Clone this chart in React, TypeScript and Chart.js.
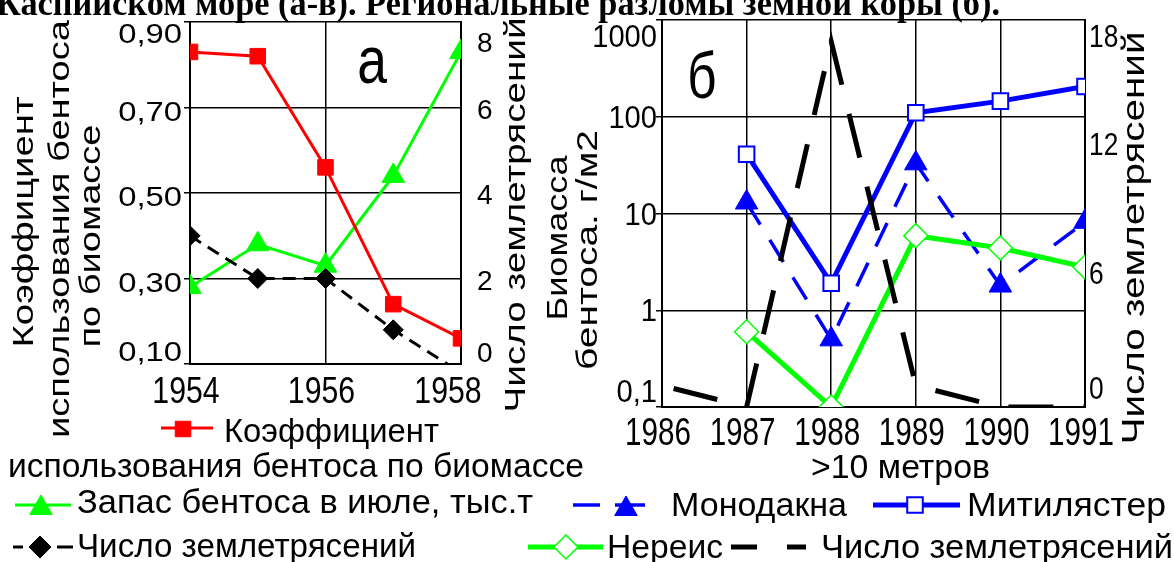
import React, { useEffect, useRef } from 'react';
import { Chart, registerables } from 'chart.js';
Chart.register(...registerables);

// ---------- Panel а (1954-1958) ----------
const yearsA = [1954, 1955, 1956, 1957, 1958];
const coefA = [0.83, 0.82, 0.56, 0.24, 0.16];
const stockA = [1.8, 2.8, 2.3, 4.4, 7.3];
const quakesA = [3, 2, 2, 0.8, -0.2];
const xTicksA = [1954, 1956, 1958];
const xTickLabelsA = ['1954', '1956', '1958'];
const yTicksA = [0.1, 0.3, 0.5, 0.7, 0.9];
const yTickLabelsA = ['0,10', '0,30', '0,50', '0,70', '0,90'];
const y2TicksA = [0, 2, 4, 6, 8];
const y2TickLabelsA = ['0', '2', '4', '6', '8'];

// ---------- Panel б (1986-1991) ----------
const yearsB = [1986, 1987, 1988, 1989, 1990, 1991];
const mitilB = [null, 41, 1.9, 110, 145, 205];
const monodB = [null, 13, 0.5, 33, 1.8, 8.2];
const nereisB = [null, 0.6, 0.1, 5.9, 4.4, 2.8];
const quakesB = [1, 0, 17, 1, 0, 0];
const xTicksB = [1986, 1987, 1988, 1989, 1990, 1991];
const xTickLabelsB = ['1986', '1987', '1988', '1989', '1990', '1991'];
const yTicksB = [0.1, 1, 10, 100, 1000];
const yTickLabelsB = ['0,1', '1', '10', '100', '1000'];
const y2TicksB = [0, 6, 12, 18];
const y2TickLabelsB = ['0', '6', '12', '18'];

const FONT = '"Liberation Sans", Arial, sans-serif';
const SERIF = '"Liberation Serif", "Times New Roman", serif';
const RED = '#ff0000';
const GREEN = '#00ff00';
const BLUE = '#0000ff';

type TOpt = {
  x: number; y: number; size: number;
  align?: CanvasTextAlign; baseline?: CanvasTextBaseline;
  sx?: number; w?: number; rot?: boolean; bold?: boolean; serif?: boolean;
};

function drawText(ctx: CanvasRenderingContext2D, s: string, o: TOpt) {
  ctx.save();
  ctx.font = `${o.bold ? 'bold ' : ''}${o.size}px ${o.serif ? SERIF : FONT}`;
  const m = ctx.measureText(s).width;
  const sx = o.w ? o.w / m : (o.sx ?? 1);
  ctx.translate(o.x, o.y);
  if (o.rot) ctx.rotate(-Math.PI / 2);
  ctx.scale(sx, 1);
  ctx.textAlign = o.align ?? 'left';
  ctx.textBaseline = o.baseline ?? 'alphabetic';
  ctx.fillStyle = '#000';
  ctx.fillText(s, 0, 0);
  ctx.restore();
}

function seg(ctx: CanvasRenderingContext2D, x0: number, x1: number, y: number, color: string, w: number) {
  ctx.save();
  ctx.strokeStyle = color;
  ctx.lineWidth = w;
  ctx.beginPath();
  ctx.moveTo(x0, y);
  ctx.lineTo(x1, y);
  ctx.stroke();
  ctx.restore();
}

function marker(ctx: CanvasRenderingContext2D, kind: string, x: number, y: number, r: number, fill: string, stroke: string, lw: number) {
  ctx.save();
  ctx.beginPath();
  if (kind === 'rect') {
    const h = r * Math.SQRT1_2;
    ctx.rect(x - h, y - h, 2 * h, 2 * h);
  } else if (kind === 'triangle') {
    let a = 0;
    ctx.moveTo(x + Math.sin(a) * r, y - Math.cos(a) * r);
    a += (2 * Math.PI) / 3;
    ctx.lineTo(x + Math.sin(a) * r, y - Math.cos(a) * r);
    a += (2 * Math.PI) / 3;
    ctx.lineTo(x + Math.sin(a) * r, y - Math.cos(a) * r);
    ctx.closePath();
  } else {
    ctx.moveTo(x - r, y);
    ctx.lineTo(x, y - r);
    ctx.lineTo(x + r, y);
    ctx.lineTo(x, y + r);
    ctx.closePath();
  }
  ctx.fillStyle = fill;
  ctx.fill();
  ctx.strokeStyle = stroke;
  ctx.lineWidth = lw;
  ctx.stroke();
  ctx.restore();
}

const clamp = (v: number, lo: number, hi: number) => Math.max(lo, Math.min(hi, v));
const pts = (xs: number[], ys: (number | null)[]) => xs.map((x, i) => ({ x, y: ys[i] }));
const setTicks = (vals: number[]) => (s: any) => { s.ticks = vals.map((v) => ({ value: v })); };

function configA(): any {
  const overlay = {
    id: 'overlayA',
    afterDraw(chart: any) {
      const ctx: CanvasRenderingContext2D = chart.ctx;
      const ca = chart.chartArea;
      const sx = chart.scales.x, sy = chart.scales.y, sy2 = chart.scales.y1;
      // title strip (cut at top)
      drawText(ctx, 'Каспийском море (а-в). Региональные разломы земной коры (б).', { x: -4, y: 15, size: 36, bold: true, serif: true, w: 1004 });
      // tick labels
      yTicksA.forEach((v, i) => {
        const cy = clamp(sy.getPixelForValue(v) + 3, ca.top + 11, ca.bottom - 13);
        drawText(ctx, yTickLabelsA[i], { x: 182, y: cy + 10, size: 28, align: 'right', sx: 1.17 });
      });
      y2TicksA.forEach((v, i) => {
        const cy = clamp(sy2.getPixelForValue(v) + 1, ca.top + 20, ca.bottom - 12);
        drawText(ctx, y2TickLabelsA[i], { x: 477, y: cy + 10, size: 28, align: 'left' });
      });
      xTicksA.forEach((v, i) => {
        const cx = Math.min(sx.getPixelForValue(v) - 4, ca.right - 13);
        drawText(ctx, xTickLabelsA[i], { x: cx, y: 403, size: 36, align: 'center', sx: 0.84 });
      });
      // axis titles
      drawText(ctx, 'Коэффициент', { x: 25, y: 222, size: 30, align: 'center', baseline: 'middle', rot: true, w: 251 });
      drawText(ctx, 'использования бентоса', { x: 61, y: 229, size: 30, align: 'center', baseline: 'middle', rot: true, w: 418 });
      drawText(ctx, 'по биомассе', { x: 92, y: 236, size: 30, align: 'center', baseline: 'middle', rot: true, w: 223 });
      drawText(ctx, 'Число землетрясений', { x: 517, y: 215, size: 30, align: 'center', baseline: 'middle', rot: true, w: 395 });
      // panel letter
      drawText(ctx, 'а', { x: 372, y: 83, size: 66, align: 'center', sx: 0.81 });
      // legend
      seg(ctx, 161, 213, 428, RED, 3);
      marker(ctx, 'rect', 183, 429, 11, RED, RED, 1);
      drawText(ctx, 'Коэффициент', { x: 224, y: 442, size: 33, w: 215 });
      drawText(ctx, 'использования бентоса по биомассе', { x: 8, y: 477, size: 33, w: 576 });
      seg(ctx, 15, 71, 505, GREEN, 3);
      marker(ctx, 'triangle', 41, 508, 13, GREEN, GREEN, 1);
      drawText(ctx, 'Запас бентоса в июле, тыс.т', { x: 77, y: 513, size: 33, w: 456 });
      seg(ctx, 13, 23, 547, '#000', 3);
      seg(ctx, 57, 73, 547, '#000', 3);
      marker(ctx, 'diamond', 40, 547, 11, '#000', '#000', 1);
      drawText(ctx, 'Число землетрясений', { x: 77, y: 557, size: 33, w: 339 });
    },
  };
  return {
    type: 'line',
    data: {
      datasets: [
        {
          label: 'Число землетрясений', data: pts(yearsA, quakesA), yAxisID: 'y1', clip: 0,
          borderColor: '#000', borderWidth: 3, borderDash: [13, 8],
          pointStyle: 'rectRot', pointRadius: 10, pointBackgroundColor: '#000', pointBorderColor: '#000', pointBorderWidth: 1,
        },
        {
          label: 'Коэффициент использования бентоса по биомассе', data: pts(yearsA, coefA), yAxisID: 'y', clip: 0,
          borderColor: RED, borderWidth: 3,
          pointStyle: 'rect', pointRadius: 11, pointBackgroundColor: RED, pointBorderColor: RED, pointBorderWidth: 1,
        },
        {
          label: 'Запас бентоса в июле, тыс.т', data: pts(yearsA, stockA), yAxisID: 'y1', clip: 0,
          borderColor: GREEN, borderWidth: 3,
          pointStyle: 'triangle', pointRadius: 13, pointBackgroundColor: GREEN, pointBorderColor: GREEN, pointBorderWidth: 1,
        },
      ],
    },
    options: {
      animation: false, responsive: false, maintainAspectRatio: false, devicePixelRatio: 1,
      layout: { padding: { top: 22, left: 0, right: 0, bottom: 0 } },
      plugins: { legend: { display: false }, tooltip: { enabled: false }, title: { display: false } },
      scales: {
        x: {
          type: 'linear', min: 1954, max: 1958, afterBuildTicks: setTicks(xTicksA),
          ticks: { display: false }, grid: { color: '#000', lineWidth: 1.5, drawTicks: false },
          border: { display: true, color: '#000', width: 2 },
          afterFit: (s: any) => { s.height = 562 - 364; },
        },
        y: {
          type: 'linear', position: 'left', min: 0.1, max: 0.9, afterBuildTicks: setTicks(yTicksA),
          ticks: { display: false }, grid: { color: '#000', lineWidth: 1.5, drawTicks: true, tickLength: 6 },
          border: { display: true, color: '#000', width: 2 },
          afterFit: (s: any) => { s.width = 190; },
        },
        y1: {
          type: 'linear', position: 'right', min: 0, max: 8, afterBuildTicks: setTicks(y2TicksA),
          ticks: { display: false }, grid: { display: false },
          border: { display: true, color: '#000', width: 2 },
          afterFit: (s: any) => { s.width = 1174 - 461; },
        },
      },
    },
    plugins: [overlay],
  };
}

function configB(): any {
  const overlay = {
    id: 'overlayB',
    afterDraw(chart: any) {
      const ctx: CanvasRenderingContext2D = chart.ctx;
      const ca = chart.chartArea;
      const sx = chart.scales.x, sy = chart.scales.y, sy2 = chart.scales.y1;
      yTicksB.forEach((v, i) => {
        const cy = clamp(sy.getPixelForValue(v), ca.top + 16, ca.bottom - 16);
        drawText(ctx, yTickLabelsB[i], { x: 657, y: cy + 11, size: 31, align: 'right', sx: 0.94 });
      });
      y2TicksB.forEach((v, i) => {
        const cy = clamp(sy2.getPixelForValue(v) - 5, ca.top + 16, ca.bottom - 19);
        drawText(ctx, y2TickLabelsB[i], { x: 1089, y: cy + 11, size: 31, align: 'left', sx: 0.85 });
      });
      xTicksB.forEach((v, i) => {
        const cx = sx.getPixelForValue(v) - 4;
        drawText(ctx, xTickLabelsB[i], { x: cx, y: 445, size: 39, align: 'center', sx: 0.76 });
      });
      drawText(ctx, '>10 метров', { x: 811, y: 478, size: 33, w: 179 });
      // axis titles
      drawText(ctx, 'Биомасса', { x: 559, y: 238, size: 30, align: 'center', baseline: 'middle', rot: true, w: 165 });
      drawText(ctx, 'бентоса. г/м2', { x: 589, y: 250, size: 30, align: 'center', baseline: 'middle', rot: true, w: 240 });
      drawText(ctx, 'Число землетрясений', { x: 1135, y: 238, size: 31, align: 'center', baseline: 'middle', rot: true, w: 413 });
      // panel letter
      drawText(ctx, 'б', { x: 702, y: 98, size: 64, align: 'center', sx: 0.8 });
      // legend
      seg(ctx, 573, 600, 505, BLUE, 3.5);
      seg(ctx, 615, 645, 505, BLUE, 3.5);
      marker(ctx, 'triangle', 626, 509, 13, BLUE, BLUE, 1);
      drawText(ctx, 'Монодакна', { x: 671, y: 516, size: 33, w: 176 });
      seg(ctx, 873, 960, 505, BLUE, 5);
      marker(ctx, 'rect', 915, 505, 11, '#fff', BLUE, 2);
      drawText(ctx, 'Митилястер', { x: 967, y: 516, size: 33, w: 199 });
      seg(ctx, 528, 603, 547, GREEN, 5);
      marker(ctx, 'diamond', 566, 547, 12, '#fff', GREEN, 1.5);
      drawText(ctx, 'Нереис', { x: 607, y: 558, size: 33, w: 116 });
      seg(ctx, 731, 757, 547, '#000', 5);
      seg(ctx, 787, 806, 547, '#000', 5);
      drawText(ctx, 'Число землетрясений', { x: 821, y: 558, size: 33, w: 352 });
    },
  };
  return {
    type: 'line',
    data: {
      datasets: [
        {
          label: 'Число землетрясений', data: pts(yearsB, quakesB), yAxisID: 'y1', clip: 0,
          borderColor: '#000', borderWidth: 5, borderDash: [45, 30], borderDashOffset: 63, pointRadius: 0,
        },
        {
          label: 'Митилястер', data: pts(yearsB, mitilB), yAxisID: 'y', clip: 0,
          borderColor: BLUE, borderWidth: 5,
          pointStyle: 'rect', pointRadius: 11, pointBackgroundColor: '#fff', pointBorderColor: BLUE, pointBorderWidth: 2,
        },
        {
          label: 'Нереис', data: pts(yearsB, nereisB), yAxisID: 'y', clip: 0,
          borderColor: GREEN, borderWidth: 5,
          pointStyle: 'rectRot', pointRadius: 12, pointBackgroundColor: '#fff', pointBorderColor: GREEN, pointBorderWidth: 1.5,
        },
        {
          label: 'Монодакна', data: pts(yearsB, monodB), yAxisID: 'y', clip: 0,
          borderColor: BLUE, borderWidth: 3.5, borderDash: [26, 18],
          pointStyle: 'triangle', pointRadius: 13, pointBackgroundColor: BLUE, pointBorderColor: BLUE, pointBorderWidth: 1,
        },
      ],
    },
    options: {
      animation: false, responsive: false, maintainAspectRatio: false, devicePixelRatio: 1,
      layout: { padding: { top: 20, left: 0, right: 0, bottom: 0 } },
      plugins: { legend: { display: false }, tooltip: { enabled: false }, title: { display: false } },
      scales: {
        x: {
          type: 'linear', min: 1986, max: 1991, afterBuildTicks: setTicks(xTicksB),
          ticks: { display: false }, grid: { color: '#000', lineWidth: 1.5, drawTicks: false },
          border: { display: true, color: '#000', width: 2 },
          afterFit: (s: any) => { s.height = 562 - 407; },
        },
        y: {
          type: 'logarithmic', position: 'left', min: 0.1, max: 1000, afterBuildTicks: setTicks(yTicksB),
          ticks: { display: false }, grid: { color: '#000', lineWidth: 1.5, drawTicks: true, tickLength: 6 },
          border: { display: true, color: '#000', width: 2 },
          afterFit: (s: any) => { s.width = 662; },
        },
        y1: {
          type: 'linear', position: 'right', min: 0, max: 18, afterBuildTicks: setTicks(y2TicksB),
          ticks: { display: false }, grid: { display: false },
          border: { display: true, color: '#000', width: 2 },
          afterFit: (s: any) => { s.width = 1174 - 1085; },
        },
      },
    },
    plugins: [overlay],
  };
}

export default function App() {
  const refA = useRef<HTMLCanvasElement>(null);
  const refB = useRef<HTMLCanvasElement>(null);
  useEffect(() => {
    const a = new Chart(refA.current as HTMLCanvasElement, configA());
    const b = new Chart(refB.current as HTMLCanvasElement, configB());
    return () => { a.destroy(); b.destroy(); };
  }, []);
  const cs: React.CSSProperties = { position: 'absolute', left: 0, top: 0, width: 1174, height: 562 };
  return (
    <div style={{ position: 'absolute', left: 0, top: 0, width: 1174, height: 562, overflow: 'hidden', background: '#fff' }}>
      <canvas ref={refA} width={1174} height={562} style={cs} />
      <canvas ref={refB} width={1174} height={562} style={cs} />
    </div>
  );
}
